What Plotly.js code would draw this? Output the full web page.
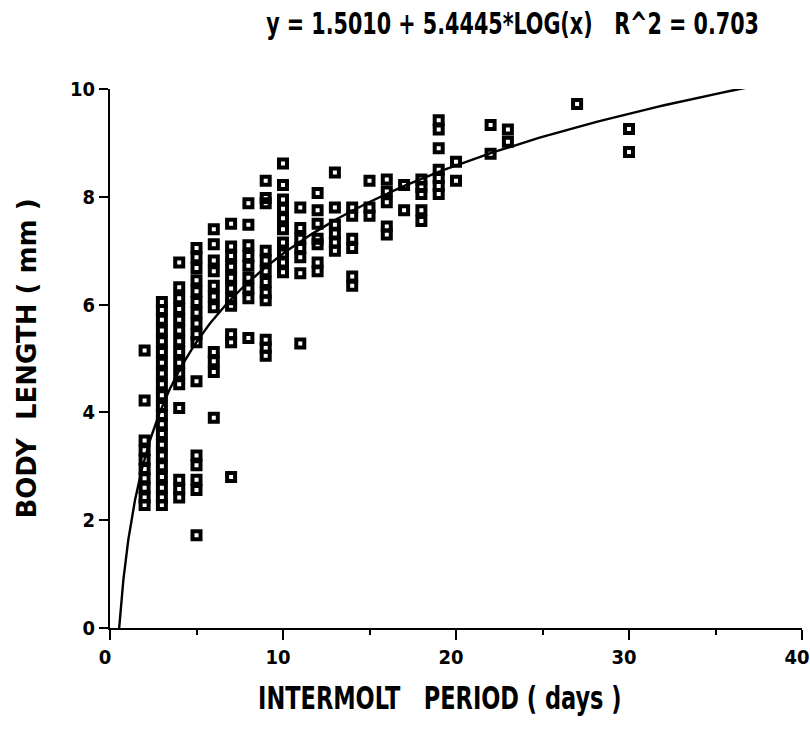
<!DOCTYPE html>
<html>
<head>
<meta charset="utf-8">
<script src="https://cdn.plot.ly/plotly-3.0.1.min.js"></script>
<style>
  html, body { margin: 0; padding: 0; background: #fff; }
  #chart { width: 810px; height: 746px; }
  /* tall, narrow lettering for the heading and the x-axis caption */
  #chart .annotation-text {
    transform-box: fill-box;
    transform-origin: center;
    transform: scaleY(1.3);
  }
</style>
</head>
<body>
<div id="chart"></div>
<script>
// Observed intermolt period (days) and body length (mm), grouped by day.
const day2  = [5.15, 4.22, 3.48, 3.30, 3.12, 2.95, 2.78, 2.60, 2.42, 2.28];
const day3  = [6.05, 5.90, 5.72, 5.52, 5.32, 5.12, 4.92, 4.72, 4.52, 4.32, 4.12, 3.95, 3.78, 3.60, 3.40, 3.20, 3.00, 2.80, 2.60, 2.42, 2.28];
const day4  = [6.78, 6.32, 6.12, 5.92, 5.72, 5.52, 5.32, 5.12, 4.92, 4.72, 4.52, 4.08, 2.75, 2.58, 2.42];
const day5  = [7.05, 6.88, 6.68, 6.45, 6.25, 6.05, 5.85, 5.65, 5.45, 5.30, 4.58, 3.20, 3.02, 2.75, 2.56, 1.72];
const day6  = [7.40, 7.12, 6.82, 6.62, 6.35, 6.15, 5.95, 5.12, 4.95, 4.75, 3.90];
const day7  = [7.50, 7.08, 6.90, 6.70, 6.50, 6.30, 6.10, 5.98, 5.45, 5.30, 2.80];
const day8  = [7.88, 7.48, 7.10, 6.90, 6.72, 6.50, 6.30, 6.12, 5.38];
const day9  = [8.30, 7.98, 7.88, 7.00, 6.82, 6.62, 6.42, 6.22, 6.08, 5.35, 5.20, 5.05];
const day10 = [8.62, 8.22, 7.95, 7.78, 7.60, 7.40, 7.15, 6.95, 6.78, 6.60];
const day11 = [7.80, 7.42, 7.22, 7.05, 6.88, 6.58, 5.28];
const day12 = [8.07, 7.75, 7.50, 7.22, 7.12, 6.78, 6.62];
const day13 = [8.45, 7.80, 7.48, 7.32, 7.15, 7.00];
const day14 = [7.80, 7.65, 7.22, 7.05, 6.52, 6.35];
const day15 = [8.30, 7.80, 7.65];
const day16 = [8.32, 8.10, 7.90, 7.45, 7.30];
const day17 = [8.22, 7.75];
const day18 = [8.32, 8.18, 8.05, 7.75, 7.55];
const day19 = [9.42, 9.25, 8.90, 8.50, 8.35, 8.20, 8.05];
const day20 = [8.65, 8.30];
const day22 = [9.33, 8.80];
const day23 = [9.25, 9.02];
const day27 = [9.72];
const day30 = [9.26, 8.83];

const dayGroups = [
  [2, day2], [3, day3], [4, day4], [5, day5], [6, day6], [7, day7],
  [8, day8], [9, day9], [10, day10], [11, day11], [12, day12], [13, day13],
  [14, day14], [15, day15], [16, day16], [17, day17], [18, day18],
  [19, day19], [20, day20], [22, day22], [23, day23], [27, day27], [30, day30]
];

// Fitted logarithmic model: y = a + b * log10(x)
const fitA = 1.5010;
const fitB = 5.4445;
const fitRange = [0.53, 38.0];

const tickVals = [0, 10, 20, 30, 40];
const yTickVals = [0, 2, 4, 6, 8, 10];

const px = [], py = [];
dayGroups.forEach(([d, vals]) => vals.forEach(v => { px.push(d); py.push(v); }));

// Sample the fitted curve, denser near the origin where it is steep
const cx = [], cy = [];
const n = 300;
for (let i = 0; i <= n; i++) {
  const x = fitRange[0] * Math.pow(fitRange[1] / fitRange[0], i / n);
  cx.push(x);
  cy.push(fitA + fitB * Math.log10(x));
}

const narrow = 'DejaVu Sans Condensed, Liberation Sans Narrow, DejaVu Sans, sans-serif';

const traces = [
  {
    x: px, y: py, type: 'scatter', mode: 'markers',
    marker: { symbol: 'square-open', size: 8, color: '#000', line: { width: 4, color: '#000' } },
    hoverinfo: 'x+y', showlegend: false, cliponaxis: false
  },
  {
    x: cx, y: cy, type: 'scatter', mode: 'lines',
    line: { color: '#000', width: 2.4 },
    hoverinfo: 'skip', showlegend: false, cliponaxis: false
  }
];

const layout = {
  width: 810, height: 746,
  margin: { l: 110, r: 8, t: 89, b: 118 },
  paper_bgcolor: '#fff', plot_bgcolor: '#fff',
  showlegend: false,
  annotations: [
    {
      text: 'y = 1.5010 + 5.4445*LOG(x)   R^2 = 0.703',
      xref: 'paper', yref: 'paper', x: 0.581, y: 1, yshift: 65,
      xanchor: 'center', yanchor: 'middle', showarrow: false,
      font: { family: narrow, size: 23, color: '#000', weight: 'bold' }
    },
    {
      text: 'INTERMOLT   PERIOD ( days )',
      xref: 'paper', yref: 'paper', x: 0.477, y: 0, yshift: -69,
      xanchor: 'center', yanchor: 'middle', showarrow: false,
      font: { family: narrow, size: 25, color: '#000', weight: 'bold' }
    }
  ],
  xaxis: {
    range: [0, 40], tickvals: tickVals, ticktext: tickVals.map(String),
    showgrid: false, zeroline: false,
    showline: true, linecolor: '#000', linewidth: 2,
    ticks: 'outside', ticklen: 10, tickwidth: 2, tickcolor: '#000',
    ticklabelshift: -5, ticklabeloverflow: 'allow',
    minor: { dtick: 5, tick0: 0, ticks: 'outside', ticklen: 5, tickwidth: 2, tickcolor: '#000', showgrid: false },
    tickfont: { family: narrow, size: 20, color: '#000', weight: 'bold' },
    fixedrange: true
  },
  yaxis: {
    range: [0, 10], tickvals: yTickVals, ticktext: yTickVals.map(String),
    showgrid: false, zeroline: false,
    showline: true, linecolor: '#000', linewidth: 2,
    ticks: 'outside', ticklen: 9, tickwidth: 2, tickcolor: '#000',
    tickfont: { family: narrow, size: 20, color: '#000', weight: 'bold' },
    title: {
      text: 'BODY  LENGTH ( mm )', standoff: 26,
      font: { family: 'DejaVu Sans, sans-serif', size: 26, color: '#000', weight: 'bold' }
    },
    fixedrange: true
  }
};

Plotly.newPlot('chart', traces, layout, { displayModeBar: false, staticPlot: true });
</script>
</body>
</html>
